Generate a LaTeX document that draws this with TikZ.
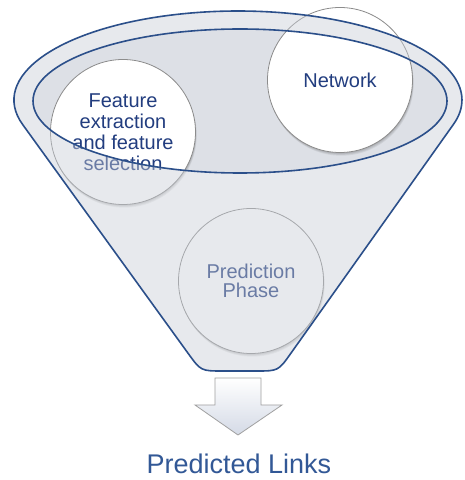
\documentclass[tikz,border=0pt]{standalone}
\usepackage{fontspec}
\setmainfont{Liberation Sans}

\definecolor{rimblue}{RGB}{43,79,138}
\definecolor{bandgray}{RGB}{201,206,215}
\definecolor{mouthgray}{RGB}{221,224,230}
\definecolor{textnavy}{RGB}{34,61,127}
\definecolor{ringgray}{RGB}{140,140,140}
\definecolor{captionblue}{RGB}{50,88,150}
\definecolor{arrowedge}{RGB}{160,160,160}
\definecolor{arrowlow}{RGB}{212,218,230}

% outline of the funnel: elliptic brim, straight tangent sides, flat rounded bottom
\newcommand\funnelrim{(22.7,355.4) arc[start angle=196.03, end angle=-15.75, x radius=224, y radius=89]
  -- (291.0,126.9) .. controls (278.3,109) .. (256.3,109)
  -- (222.9,109) .. controls (200.9,109) .. (188.0,126.8) -- cycle}
\newcommand\mouthrim{(240,379) ellipse[x radius=207, y radius=72]}

\begin{document}
\begin{tikzpicture}[x=1pt,y=1pt,
  stage/.style={circle, draw=ringgray, line width=0.8pt, fill=white,
    minimum size=145pt, inner sep=0pt, align=center, text=textnavy,
    font=\fontsize{20}{21}\selectfont},
  rim/.style={draw=rimblue, line width=1.6pt, line join=round},
  caption/.style={font=\fontsize{27}{31}\selectfont, text=captionblue, anchor=base}]

\fill[white] (0,0) rectangle (465,480);
\useasboundingbox (0,0) rectangle (465,480);

% darker mouth of the funnel
\fill[mouthgray] \mouthrim;

% soft shadows under the three stages
\foreach \cx/\cy in {123/348, 340/400, 251/199}{
  \foreach \k in {1,...,4}{
    \fill[black, opacity=0.06] (\cx+0.3*\k, \cy-0.8*\k) circle[radius=72.5];
  }
}

\node[stage] (feat) at (123,348) {Feature\\extraction\\and feature\\selection};
\node[stage] (net) at (340,400) {Network};
\node[stage, font=\fontsize{20}{19.5}\selectfont] (pred) at (251,199) {Prediction\\Phase};

% translucent body of the funnel, leaving the mouth open
\fill[bandgray, fill opacity=0.43, even odd rule] \funnelrim \mouthrim;

% blue rims
\draw[rim] \funnelrim;
\draw[rim] \mouthrim;

% output arrow
\draw[draw=arrowedge, line width=0.8pt, top color=white, bottom color=arrowlow]
  (215,102) -- (261,102) -- (261,75) -- (282,75) -- (238,45) -- (195,75) -- (215,75) -- cycle;

\node[caption] (out) at (239,6) {Predicted Links};

\end{tikzpicture}
\end{document}
